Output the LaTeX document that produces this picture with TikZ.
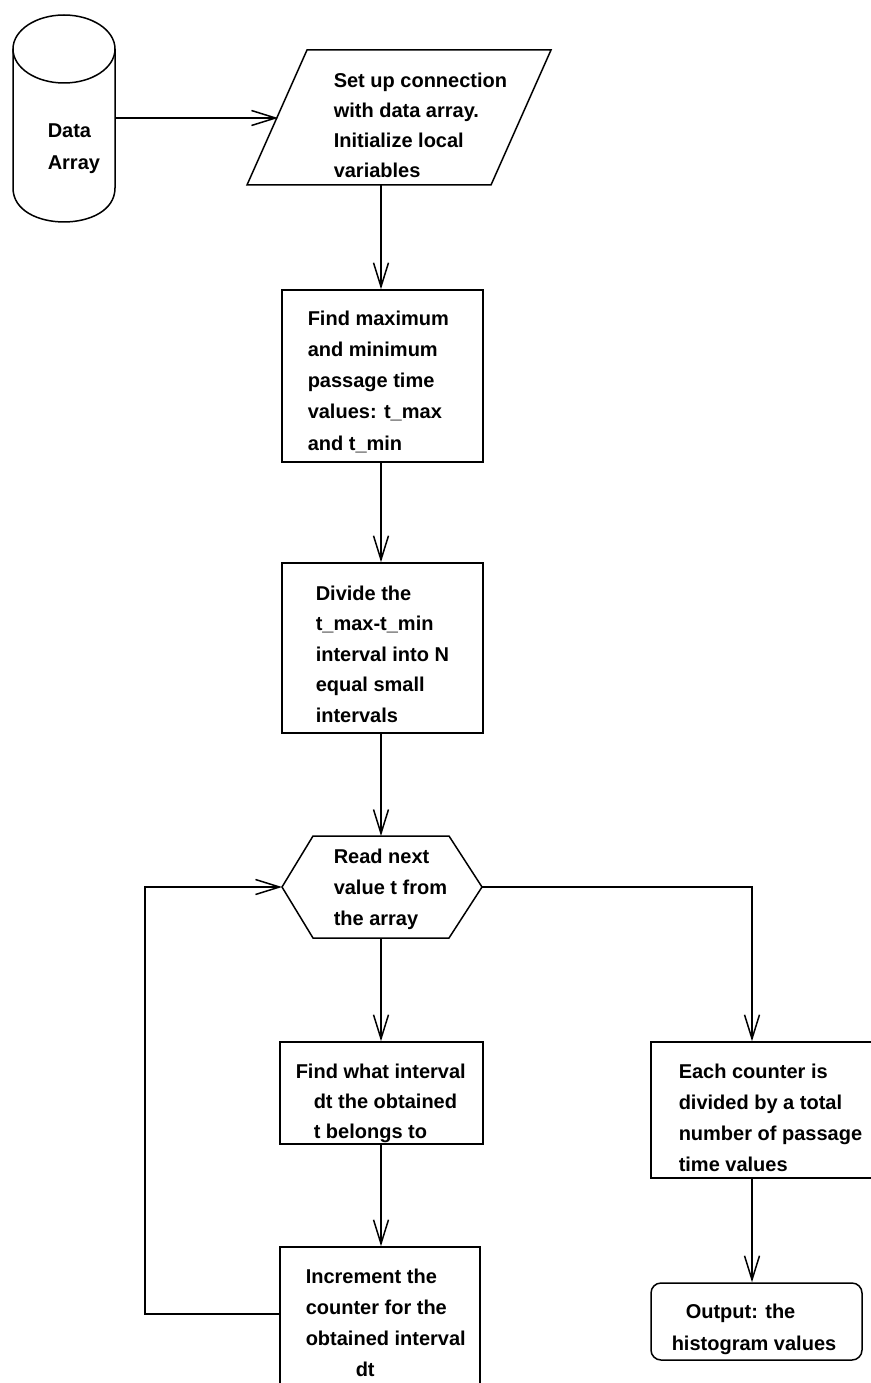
\documentclass[tikz,border=0pt]{standalone}
\usepackage{fontspec}
\setmainfont{Liberation Sans}
\usetikzlibrary{arrows.meta}
\begin{document}
\begin{tikzpicture}[x=1pt,y=-1pt,
  line width=1.5pt,
  txt/.style={font=\fontsize{20}{31}\selectfont\bfseries, align=left, inner sep=0pt, anchor=north west},
  box/.style={draw, rectangle, line width=1.5pt, inner sep=0pt},
  arr/.style={-{Straight Barb[length=24pt,width=15pt,line width=1.5pt]}}
]
\useasboundingbox (0,0) rectangle (870,1383);

% column of the main flow
\coordinate (col) at (381,0);

% ---- cylinder (Data Array)
\draw (64,49) ellipse [x radius=51pt, y radius=34pt];
\draw (13,49) -- (13,188) .. controls (13,233.3) and (115,233.3) .. (115,188) -- (115,49);
\node[txt, font=\fontsize{20}{32}\selectfont\bfseries] (datatxt) at (47,123) {Data\\Array};
\coordinate (cylR) at (115,118);

% ---- parallelogram
\coordinate (pTL) at (307,50);
\coordinate (pTR) at (551,50);
\coordinate (pBR) at (491,185);
\coordinate (pBL) at (247,185);
\draw (pTL) -- (pTR) -- (pBR) -- (pBL) -- cycle;
\coordinate (parL) at (278,118);
\coordinate (parB) at (col |- pBL);
\node[txt, font=\fontsize{20}{30}\selectfont\bfseries] (setup) at (333,72) {Set up connection\\with data array.\\Initialize local\\variables};

% ---- box 1
\node[box, minimum width=201pt, minimum height=172pt] (b1) at (382.5,376) {};
\node[txt, font=\fontsize{20}{31.2}\selectfont\bfseries] (b1t) at (307,310) {Find maximum\\and minimum\\passage time\\values: t\_max\\and t\_min};

% ---- box 2
\node[box, minimum width=201pt, minimum height=170pt] (b2) at (382.5,648) {};
\node[txt, font=\fontsize{20}{30.5}\selectfont\bfseries] (b2t) at (315,585) {Divide the\\t\_max-t\_min\\interval into N\\equal small\\intervals};

% ---- hexagon
\coordinate (hL) at (282,887);
\coordinate (hR) at (482,887);
\coordinate (hT) at (col |- 0,836);
\coordinate (hB) at (col |- 0,938);
\draw (hL) -- (313,836) -- (449,836) -- (hR) -- (449,938) -- (313,938) -- cycle;
\node[txt] (hext) at (333,848) {Read next\\value t from\\the array};

% ---- box 3
\node[box, minimum width=203pt, minimum height=102pt] (b3) at (381.5,1093) {};
\node[txt, font=\fontsize{20}{30}\selectfont\bfseries] (b3t) at (295,1063) {Find what interval\\\hspace*{18pt}dt the obtained\\\hspace*{18pt}t belongs to};

% ---- box 4 (bottom edge outside the picture)
\node[box, minimum width=200pt, minimum height=150pt] (b4) at (380,1322) {};
\node[txt] (b4t) at (305,1268) {Increment the\\counter for the\\obtained interval\\\hspace*{50pt}dt};
\coordinate (loopy) at (0,1314);
\coordinate (loopx) at (145,0);

% ---- box 5 (right edge outside the picture)
\node[box, minimum width=234pt, minimum height=136pt] (b5) at (768,1110) {};
\node[txt] (b5t) at (678,1063) {Each counter is\\divided by a total\\number of passage\\time values};
\coordinate (rb) at (752,887);

% ---- output (rounded)
\node[box, rounded corners=10pt, minimum width=211pt, minimum height=77pt] (out) at (756.5,1321.5) {};
\node[txt, font=\fontsize{20}{32}\selectfont\bfseries] (outt) at (671,1303) {\hspace*{14pt}Output: the\\histogram values};

% ---- connectors
\draw[arr] (cylR) -- (parL);
\draw[arr] (parB) -- (col |- b1.north);
\draw[arr] (col |- b1.south) -- (col |- b2.north);
\draw[arr] (col |- b2.south) -- (hT);
\draw[arr] (hB) -- (col |- b3.north);
\draw[arr] (col |- b3.south) -- (col |- b4.north);
\draw[arr] (b4.west |- loopy) -- (loopx |- loopy) -- (loopx |- hL) -- (hL);
\draw[arr] (hR) -- (rb) -- (rb |- b5.north);
\draw[arr] (rb |- b5.south) -- (rb |- out.north);
\end{tikzpicture}
\end{document}
